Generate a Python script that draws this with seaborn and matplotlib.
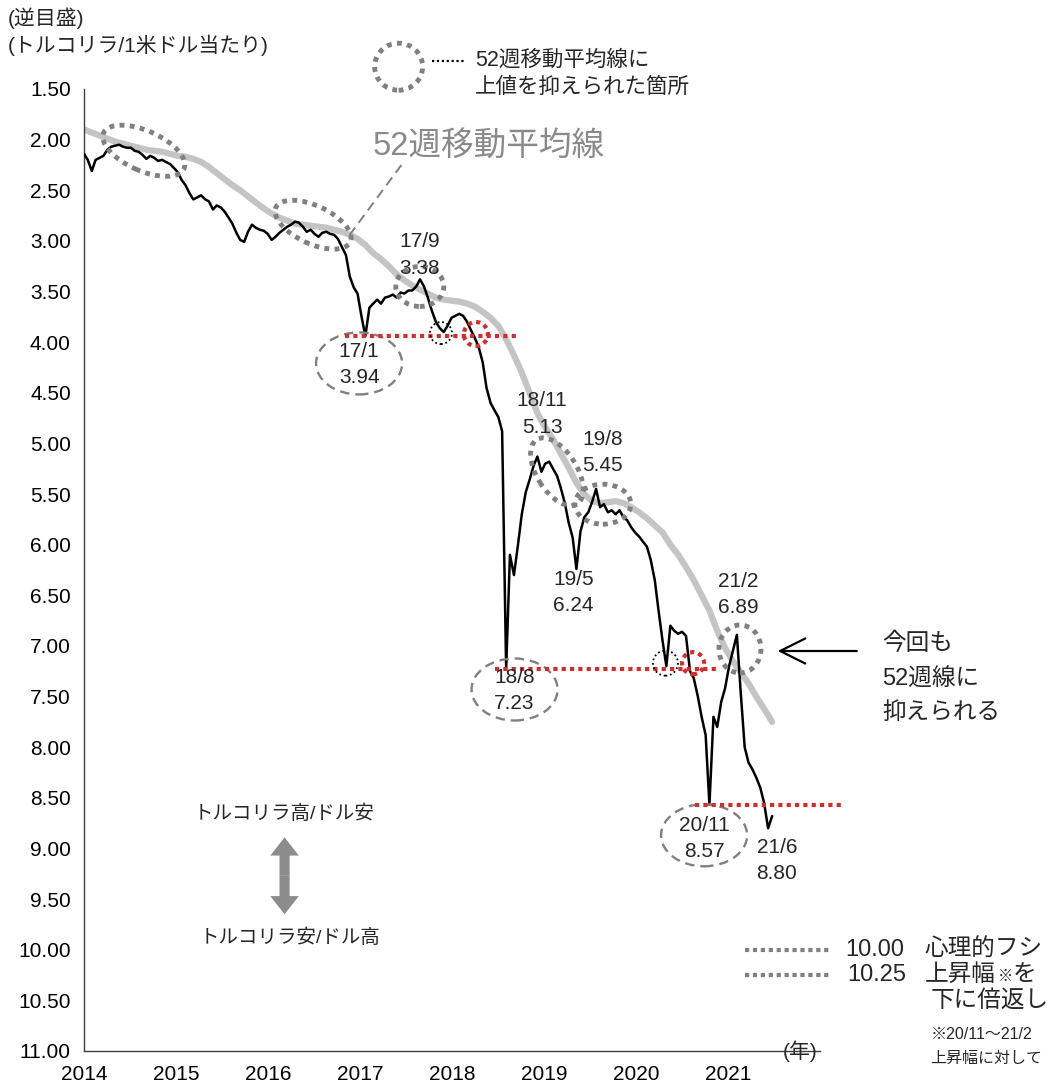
import matplotlib
matplotlib.use('Agg')
import matplotlib.pyplot as plt
import matplotlib.patches as mpatches
import matplotlib.transforms as mtransforms
import numpy as np
import pandas as pd
import seaborn as sns

# USD/TRY (semi-monthly read-off, inverted scale), Jan 2014 - Jun 2021
price = [
    2.14, 2.20, 2.31, 2.20, 2.18, 2.16, 2.10, 2.07, 2.06, 2.05, 2.07, 2.08,
    2.08, 2.11, 2.12, 2.15, 2.19, 2.16, 2.18, 2.21, 2.20, 2.22, 2.24, 2.28,
    2.32, 2.40, 2.45, 2.53, 2.59, 2.57, 2.55, 2.59, 2.61, 2.69, 2.65, 2.67,
    2.71, 2.77, 2.83, 2.92, 2.99, 3.01, 2.91, 2.84, 2.87, 2.89, 2.90, 2.93,
    2.99, 2.96, 2.92, 2.89, 2.86, 2.84, 2.81, 2.82, 2.86, 2.91, 2.89, 2.93,
    2.96, 2.92, 2.91, 2.93, 2.94, 2.98, 3.06, 3.14, 3.35, 3.46, 3.52, 3.75,
    3.94, 3.66, 3.62, 3.58, 3.62, 3.56, 3.55, 3.53, 3.56, 3.51, 3.52, 3.49,
    3.49, 3.45, 3.38, 3.45, 3.56, 3.69, 3.80, 3.86, 3.90, 3.84, 3.76, 3.74,
    3.72, 3.74, 3.80, 3.88, 3.96, 4.05, 4.20, 4.45, 4.60, 4.67, 4.74, 4.88,
    7.23, 6.10, 6.30, 6.00, 5.70, 5.48, 5.36, 5.22, 5.13, 5.28, 5.20, 5.18,
    5.25, 5.32, 5.44, 5.59, 5.78, 5.93, 6.24, 5.87, 5.73, 5.68, 5.58, 5.45,
    5.63, 5.60, 5.68, 5.66, 5.70, 5.66, 5.73, 5.76, 5.83, 5.88, 5.92, 5.97,
    6.02, 6.15, 6.35, 6.65, 6.95, 7.20, 6.80, 6.85, 6.88, 6.86, 6.90, 7.25,
    7.32, 7.50, 7.70, 7.88, 8.57, 7.70, 7.80, 7.55, 7.42, 7.20, 7.05, 6.89,
    7.45, 8.00, 8.15, 8.22, 8.30, 8.40, 8.55, 8.80, 8.68,
]

# 52-week moving average (monthly read-off)
ma52 = [
    1.90, 1.93, 1.96, 1.99, 2.02, 2.04, 2.06, 2.08, 2.10, 2.11, 2.12, 2.14,
    2.16, 2.17, 2.19, 2.22, 2.27, 2.33, 2.39, 2.45, 2.50, 2.56, 2.62, 2.68,
    2.73, 2.77, 2.80, 2.83, 2.84, 2.85, 2.86, 2.87, 2.89, 2.91, 2.94, 2.98,
    3.04, 3.12, 3.18, 3.25, 3.33, 3.39, 3.44, 3.48, 3.52, 3.56, 3.58, 3.59,
    3.60, 3.62, 3.65, 3.70, 3.76, 3.84, 3.97, 4.13, 4.30, 4.50, 4.70, 4.84,
    4.96, 5.10, 5.24, 5.39, 5.50, 5.57, 5.59, 5.58, 5.57, 5.59, 5.63, 5.68,
    5.74, 5.81, 5.88, 6.00, 6.10, 6.22, 6.35, 6.50, 6.65, 6.85, 7.02, 7.15,
    7.26, 7.37, 7.50, 7.62, 7.75,
]

years = list(range(2014, 2023))
year_labels = ['2014', '2015', '2016', '2017', '2018', '2019', '2020', '2021', '']
y_ticks = [1.5, 2.0, 2.5, 3.0, 3.5, 4.0, 4.5, 5.0, 5.5, 6.0, 6.5, 7.0, 7.5,
           8.0, 8.5, 9.0, 9.5, 10.0, 10.5, 11.0]

# annotated points: (label date, value)
points = [('17/1', 3.94), ('17/9', 3.38), ('18/8', 7.23), ('18/11', 5.13),
          ('19/5', 6.24), ('19/8', 5.45), ('20/11', 8.57), ('21/2', 6.89),
          ('21/6', 8.80)]
lines_red = [3.94, 7.23, 8.57]
targets = [10.00, 10.25]


def to_year(dates):
    start = pd.Timestamp('2014-01-01')
    return 2014 + (dates - start).days / 365.25


df_p = pd.DataFrame({'t': to_year(pd.date_range('2014-01-01', '2021-06-25', periods=len(price))),
                     'v': price})
df_m = pd.DataFrame({'t': to_year(pd.date_range('2014-01-01', '2021-06-25', periods=len(ma52))),
                     'v': ma52})

sns.set_style('white')
plt.rcParams['font.family'] = ['Liberation Sans', 'Noto Sans CJK JP']
plt.rcParams['axes.unicode_minus'] = False

W, H = 1055, 1091
fig = plt.figure(figsize=(W / 100, H / 100), dpi=100)
ax = fig.add_axes([84 / W, 1 - 1051 / H, (820 - 84) / W, (1051 - 89) / H])

sns.lineplot(data=df_m, x='t', y='v', ax=ax, color='#c4c4c4', linewidth=4.5,
             estimator=None, zorder=2)
sns.lineplot(data=df_p, x='t', y='v', ax=ax, color='black', linewidth=1.8,
             estimator=None, zorder=3)

ax.set_xlim(2014, 2022)
ax.set_ylim(11.0, 1.5)
ax.set_autoscale_on(False)
ax.set_xticks(years)
ax.set_xticklabels(year_labels)
ax.set_yticks(y_ticks)
ax.set_yticklabels([f'{v:.2f}' for v in y_ticks])
ax.tick_params(axis='both', direction='out', length=6, width=1, color='#404040',
               labelsize=15, colors='black')
ax.tick_params(axis='x', pad=4)
ax.set_xlabel('')
ax.set_ylabel('')
for s in ['top', 'right']:
    ax.spines[s].set_visible(False)
for s in ['left', 'bottom']:
    ax.spines[s].set_color('#404040')
    ax.spines[s].set_linewidth(1)


def ring(yr, val, w, h, angle=0, **kw):
    tr = fig.dpi_scale_trans + mtransforms.ScaledTranslation(yr, val, ax.transData)
    e = mpatches.Ellipse((0, 0), w / 100, h / 100, angle=angle, transform=tr,
                         fill=False, clip_on=False, **kw)
    ax.add_patch(e)


gray_dot = dict(edgecolor='#808080', linewidth=3.5, linestyle=(0, (1, 1.1)), zorder=5)
gray_dash = dict(edgecolor='#808080', linewidth=1.7, linestyle=(0, (4, 2.5)), zorder=5)
red_dot = dict(edgecolor='#d42b2b', linewidth=3, linestyle=(0, (1, 1)), zorder=6)
blk_dot = dict(edgecolor='black', linewidth=1.3, linestyle=(0, (1, 1.5)), zorder=6)

# 52-week MA resistance spots
ring(2014.65, 2.11, 88, 40, -24, **gray_dot)
ring(2016.49, 2.84, 82, 38, -25, **gray_dot)
ring(2017.65, 3.45, 48, 40, 0, **gray_dot)
ring(2019.14, 5.28, 76, 40, -58, **gray_dot)
ring(2019.64, 5.60, 56, 40, 0, **gray_dot)
ring(2021.13, 7.03, 42, 48, 0, **gray_dot)

# support levels
ax.hlines(lines_red[0], 2016.84, 2018.71, colors='#d42b2b', linewidth=3,
          linestyles=(0, (1, 1)), zorder=6)
ax.hlines(lines_red[1], 2018.47, 2020.89, colors='#d42b2b', linewidth=3,
          linestyles=(0, (1, 1)), zorder=6)
ax.hlines(lines_red[2], 2020.64, 2022.24, colors='#d42b2b', linewidth=3,
          linestyles=(0, (1, 1)), zorder=6, clip_on=False)
ring(2018.26, 3.92, 24, 24, 0, **red_dot)
ring(2020.62, 7.17, 22, 22, 0, **red_dot)
ring(2017.88, 3.91, 22, 22, 0, **blk_dot)
ring(2020.32, 7.17, 25, 25, 0, **blk_dot)

# labels of highs / lows
lbl = dict(ha='center', va='center', fontsize=15, zorder=7)
pos = {'17/1': (2016.99, 4.09), '17/9': (2017.65, 3.01), '18/8': (2018.68, 7.31),
       '18/11': (2018.98, 4.58), '19/5': (2019.32, 6.34), '19/8': (2019.64, 4.96),
       '20/11': (2020.74, 8.77), '21/2': (2021.11, 6.36), '21/6': (2021.53, 8.99)}
for name, val in points:
    x, y = pos[name]
    ax.text(x, y, name, clip_on=False, **lbl)
    ax.text(x, y + 0.26, f'{val:.2f}', clip_on=False, **lbl)
ring(2016.99, 4.21, 86, 62, 0, **gray_dash)
ring(2018.68, 7.43, 86, 62, 0, **gray_dash)
ring(2020.74, 8.87, 86, 62, 0, **gray_dash)

# MA label with leader line
ax.text(2017.14, 2.07, '52週移動平均線', color='#8a8a8a', fontsize=23.5,
        ha='left', va='center')
ax.plot([2017.45, 2016.88], [2.25, 2.95], color='#808080', linewidth=1.4,
        linestyle=(0, (5, 3)), zorder=4)

# top legend
ring(2017.42, 1.28, 48, 47, 0, **gray_dot)
ax.plot([2017.78, 2018.13], [1.22, 1.22], color='black', linewidth=1.6,
        linestyle=(0, (1, 1.2)), clip_on=False)
ax.text(2018.25, 1.22, '52週移動平均線に', fontsize=15.5, ha='left', va='center',
        clip_on=False)
ax.text(2018.25, 1.48, '上値を抑えられた箇所', fontsize=15.5, ha='left', va='center',
        clip_on=False)

# arrow + comment
ax.annotate('', xy=(2021.51, 7.05), xytext=(2022.43, 7.05),
            arrowprops=dict(arrowstyle='->,head_length=0.9,head_width=0.45',
                            lw=1.6, color='black', mutation_scale=20),
            annotation_clip=False)
for txt, y in [('今回も', 6.98), ('52週線に', 7.33), ('抑えられる', 7.66)]:
    ax.text(2022.68, y, txt, fontsize=17, ha='left', va='center', clip_on=False)

# double arrow
for dy in [-0.38, 0.38]:
    ax.add_patch(mpatches.FancyArrow(2016.18, 9.27, 0, dy, width=0.11,
                                     head_width=0.31, head_length=0.18,
                                     length_includes_head=True,
                                     color='#8c8c8c', linewidth=0, zorder=4))
ax.text(2016.18, 8.66, 'トルコリラ高/ドル安', fontsize=14, ha='center', va='center')
ax.text(2016.24, 9.88, 'トルコリラ安/ドル高', fontsize=14, ha='center', va='center')

# target levels
for v in targets:
    ax.hlines(v, 2021.18, 2022.11, colors='#808080', linewidth=3,
              linestyles=(0, (1, 0.9)), clip_on=False, zorder=5)
ax.text(2022.27, 10.0, '10.00', fontsize=17, ha='left', va='center', clip_on=False)
ax.text(2023.14, 10.0, '心理的フシ', fontsize=17, ha='left', va='center', clip_on=False)
ax.text(2022.30, 10.25, '10.25', fontsize=17, ha='left', va='center', clip_on=False)
ax.text(2023.14, 10.25, '上昇幅', fontsize=17, ha='left', va='center', clip_on=False)
ax.text(2023.93, 10.27, '※', fontsize=11, ha='left', va='center', clip_on=False)
ax.text(2024.10, 10.25, 'を', fontsize=17, ha='left', va='center', clip_on=False)
ax.text(2023.20, 10.50, '下に倍返し', fontsize=17, ha='left', va='center', clip_on=False)
ax.text(2023.20, 10.84, '※20/11～21/2', fontsize=11.5, ha='left', va='center', clip_on=False)
ax.text(2023.20, 11.07, '上昇幅に対して', fontsize=11.5, ha='left', va='center', clip_on=False)
ax.text(2021.78, 11.0, '(年)', fontsize=15, ha='center', va='center', clip_on=False)

fig.text(8 / W, 1 - 18 / H, '(逆目盛)', fontsize=15, ha='left', va='center')
fig.text(8 / W, 1 - 45 / H, '(トルコリラ/1米ドル当たり)', fontsize=15, ha='left', va='center')

fig.savefig('out.png', dpi=100)
